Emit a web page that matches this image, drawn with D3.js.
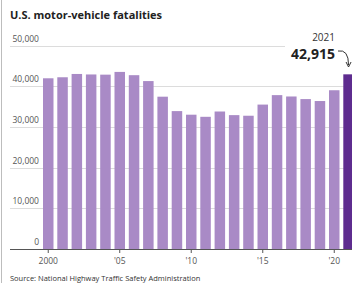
<!DOCTYPE html>
<html>
<head>
<meta charset="utf-8">
<script src="https://cdn.jsdelivr.net/npm/d3@7"></script>
<style>
  body { margin: 0; background: #fff; }
  svg { display: block; font-family: "Open Sans", "Noto Sans", sans-serif; }
</style>
</head>
<body>
<script>
// data
const years = d3.range(2000, 2022);
const fatalities = [41945, 42196, 43005, 42884, 42836, 43510, 42708, 41259, 37423, 33883,
  32999, 32479, 33782, 32893, 32744, 35484, 37806, 37473, 36835, 36355, 39007, 42915];
const yTicks = [0, 10000, 20000, 30000, 40000, 50000];
const xTicks = [2000, 2005, 2010, 2015, 2020];
const xTickLabels = ["2000", "'05", "'10", "'15", "'20"];

const w = 352;
const h = 283;
const base = 249;

const svg = d3.select("body").append("svg").attr("width", w).attr("height", h);

// left frame line
svg.append("line")
  .attr("x1", 1.5).attr("x2", 1.5).attr("y1", 0).attr("y2", h)
  .attr("stroke", "#bdbdbd").attr("stroke-width", 1);

const xScale = d3.scaleBand()
  .domain(years)
  .range([43, 353.8])
  .paddingInner(0.266)
  .paddingOuter(0);

const yScale = d3.scaleLinear()
  .domain([0, 50000])
  .range([base, 45.5]);

// title
svg.append("text")
  .attr("x", 10).attr("y", 19)
  .attr("font-size", "11px").attr("font-weight", "bold").attr("fill", "#222")
  .text("U.S. motor-vehicle fatalities");

// gridlines + labels
const grid = svg.append("g");
grid.selectAll("line")
  .data(yTicks.filter(d => d > 0))
  .enter().append("line")
  .attr("x1", 10)
  .attr("x2", d => d === 50000 ? 285 : w)
  .attr("y1", d => Math.round(yScale(d)) + 0.5)
  .attr("y2", d => Math.round(yScale(d)) + 0.5)
  .attr("stroke", "#dcdcdc");

grid.selectAll("text")
  .data(yTicks)
  .enter().append("text")
  .attr("x", 39)
  .attr("y", d => yScale(d) - 4)
  .attr("text-anchor", "end")
  .attr("font-size", "8.5px")
  .attr("fill", "#555")
  .text(d => d3.format(",")(d));

// bars
svg.selectAll("rect")
  .data(years)
  .enter().append("rect")
  .attr("x", d => xScale(d))
  .attr("width", xScale.bandwidth())
  .attr("y", (d, i) => yScale(fatalities[i]))
  .attr("height", (d, i) => base - yScale(fatalities[i]))
  .attr("fill", d => d === 2021 ? "#5e2c8f" : "#a98ac6");

// x axis baseline
svg.append("line")
  .attr("x1", 10).attr("x2", w)
  .attr("y1", base + 0.5).attr("y2", base + 0.5)
  .attr("stroke", "#555");

const xAxis = svg.append("g");
xAxis.selectAll("line")
  .data(xTicks)
  .enter().append("line")
  .attr("x1", d => xScale(d) + xScale.bandwidth() / 2)
  .attr("x2", d => xScale(d) + xScale.bandwidth() / 2)
  .attr("y1", base).attr("y2", base + 4)
  .attr("stroke", "#555");

xAxis.selectAll("text")
  .data(xTicks)
  .enter().append("text")
  .attr("x", d => xScale(d) + xScale.bandwidth() / 2)
  .attr("y", base + 15)
  .attr("text-anchor", "middle")
  .attr("font-size", "8.5px")
  .attr("fill", "#555")
  .text((d, i) => xTickLabels[i]);

// annotation for 2021
const last = fatalities[fatalities.length - 1];
svg.append("text")
  .attr("x", 335).attr("y", 41)
  .attr("text-anchor", "end")
  .attr("font-size", "10px").attr("fill", "#333")
  .text("2021");
svg.append("text")
  .attr("x", 335).attr("y", 59)
  .attr("text-anchor", "end")
  .attr("font-size", "14px").attr("font-weight", "bold").attr("fill", "#222")
  .text(d3.format(",")(last));

const ax = xScale(2021) + xScale.bandwidth() / 2;
svg.append("path")
  .attr("d", `M338,51 Q${ax},49 ${ax},65`)
  .attr("fill", "none").attr("stroke", "#333").attr("stroke-width", 1);
svg.append("path")
  .attr("d", `M${ax - 2.5},62 L${ax},67 L${ax + 2.5},62`)
  .attr("fill", "none").attr("stroke", "#333").attr("stroke-width", 1);

// source
svg.append("text")
  .attr("x", 10).attr("y", 281)
  .attr("font-size", "7.5px").attr("fill", "#333")
  .text("Source: National Highway Traffic Safety Administration");
</script>
</body>
</html>
